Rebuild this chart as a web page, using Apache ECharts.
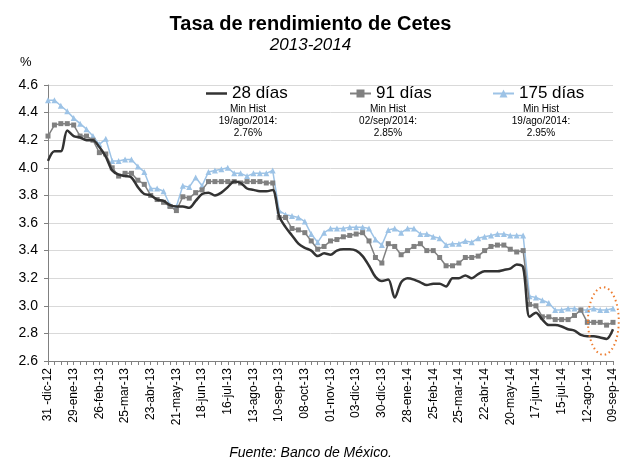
<!DOCTYPE html>
<html>
<head>
<meta charset="utf-8">
<script src="https://cdn.jsdelivr.net/npm/echarts@6/dist/echarts.min.js"></script>
<style>
html,body{margin:0;padding:0;background:#fff;}
#chart{width:621px;height:464px;}
</style>
</head>
<body>
<div id="chart"></div>
<script>
// Tick labels (every 4th weekly observation)
const tickLabels = ["31 -dic-12","29-ene-13","26-feb-13","25-mar-13","23-abr-13","21-may-13","18-jun-13","16-jul-13","13-ago-13","10-sep-13","08-oct-13","01-nov-13","03-dic-13","30-dic-13","28-ene-14","25-feb-14","25-mar-14","22-abr-14","20-may-14","17-jun-14","15-jul-14","12-ago-14","09-sep-14"];

// Series values (weekly auctions, %)
const cetes28 = [4.05,4.12,4.12,4.27,4.23,4.22,4.20,4.20,4.15,4.08,3.98,3.95,3.94,3.93,3.86,3.81,3.80,3.77,3.76,3.73,3.72,3.72,3.71,3.76,3.81,3.82,3.80,3.82,3.86,3.90,3.89,3.85,3.84,3.83,3.83,3.84,3.65,3.57,3.51,3.45,3.42,3.40,3.36,3.38,3.37,3.40,3.41,3.41,3.40,3.36,3.29,3.21,3.18,3.19,3.06,3.17,3.20,3.19,3.17,3.15,3.16,3.16,3.14,3.20,3.20,3.22,3.20,3.23,3.25,3.25,3.25,3.26,3.27,3.30,3.28,2.92,2.95,2.90,2.86,2.86,2.85,2.83,2.82,2.79,2.78,2.78,2.77,2.76,2.83];
const cetes91 = [4.23,4.31,4.32,4.32,4.31,4.23,4.23,4.20,4.11,4.10,4.00,3.94,3.96,3.96,3.91,3.88,3.80,3.77,3.75,3.72,3.69,3.79,3.78,3.82,3.84,3.90,3.90,3.90,3.90,3.90,3.89,3.90,3.90,3.90,3.89,3.89,3.64,3.64,3.56,3.55,3.53,3.47,3.41,3.43,3.47,3.48,3.50,3.51,3.52,3.53,3.47,3.35,3.31,3.45,3.43,3.37,3.40,3.43,3.45,3.40,3.40,3.35,3.29,3.29,3.31,3.35,3.35,3.36,3.40,3.43,3.44,3.44,3.41,3.39,3.40,3.01,3.00,2.92,2.92,2.90,2.90,2.90,2.93,2.97,2.88,2.88,2.88,2.86,2.88];
const cetes175 = [4.49,4.49,4.45,4.41,4.36,4.32,4.28,4.23,4.17,4.21,4.05,4.05,4.06,4.06,4.01,3.97,3.85,3.85,3.83,3.73,3.72,3.87,3.86,3.93,3.87,3.97,3.98,3.99,4.00,3.96,3.96,3.94,3.96,3.96,3.96,3.98,3.69,3.66,3.65,3.64,3.61,3.52,3.46,3.53,3.56,3.56,3.56,3.57,3.57,3.57,3.56,3.48,3.44,3.55,3.56,3.53,3.56,3.56,3.52,3.52,3.50,3.49,3.44,3.45,3.45,3.47,3.46,3.49,3.50,3.51,3.52,3.52,3.51,3.51,3.51,3.07,3.06,3.04,3.02,2.97,2.97,2.98,2.98,2.97,2.97,2.98,2.97,2.97,2.98];

const seriesNames = ["28 días","91 días","175 días"];
const minHistNotes = [
  ["Min Hist","19/ago/2014:","2.76%"],
  ["Min Hist","02/sep/2014:","2.85%"],
  ["Min Hist","19/ago/2014:","2.95%"]
];

const categories = cetes28.map((_, i) => (i % 4 === 0 ? tickLabels[i / 4] : "w" + i));

const FONT = "'Liberation Sans', Arial, sans-serif";
const chart = echarts.init(document.getElementById("chart"), null, {renderer: "canvas"});

const legendLefts = [206, 349, 492];
const noteCenters = [248, 388, 541];

const option = {
  backgroundColor: "#ffffff",
  animation: false,
  textStyle: {fontFamily: FONT},
  title: [
    {text: "Tasa de rendimiento de Cetes", left: "center", top: 9,
     textStyle: {fontFamily: FONT, fontSize: 20, fontWeight: "bold", color: "#000"}},
    {text: "2013-2014", left: "center", top: 32,
     textStyle: {fontFamily: FONT, fontSize: 17, fontStyle: "italic", fontWeight: "normal", color: "#000"}},
    {text: "Fuente: Banco de México.", left: "center", top: 441,
     textStyle: {fontFamily: FONT, fontSize: 14, fontStyle: "italic", fontWeight: "normal", color: "#000"}}
  ],
  legend: seriesNames.map((n, k) => ({
    data: [k === 0 ? {name: n, icon: "rect"} : n],
    left: legendLefts[k], top: 85, itemWidth: 21, itemHeight: k === 0 ? 2.5 : 10, padding: 0,
    textStyle: {fontFamily: FONT, fontSize: 17, color: "#000"}
  })),
  grid: {left: 48, right: 8, top: 85, bottom: 103},
  xAxis: {
    type: "category", data: categories, boundaryGap: false,
    axisLine: {lineStyle: {color: "#808080", width: 1}},
    axisTick: {interval: 0, length: 4, lineStyle: {color: "#808080"}},
    axisLabel: {interval: 3, rotate: 90, fontSize: 12, color: "#000", fontFamily: FONT, margin: 7},
    splitLine: {show: false}
  },
  yAxis: {
    type: "value", min: 2.6, max: 4.6, interval: 0.2,
    axisLine: {show: true, lineStyle: {color: "#808080", width: 1}},
    axisTick: {show: true, length: 4, lineStyle: {color: "#808080"}},
    axisLabel: {fontSize: 14, color: "#000", fontFamily: FONT, margin: 10, formatter: v => v.toFixed(1)},
    splitLine: {lineStyle: {color: "#d9d9d9", width: 1}}
  },
  series: [
    {name: seriesNames[0], type: "line", data: cetes28, smooth: 0.3, symbol: "none",
     lineStyle: {color: "#333333", width: 2.5}, itemStyle: {color: "#333333"}, z: 3},
    {name: seriesNames[1], type: "line", data: cetes91, symbol: "rect", symbolSize: 5, showAllSymbol: true,
     lineStyle: {color: "#808080", width: 1.5}, itemStyle: {color: "#808080"}, z: 2},
    {name: seriesNames[2], type: "line", data: cetes175, symbol: "triangle", symbolSize: 6, showAllSymbol: true,
     lineStyle: {color: "#9dc3e6", width: 1.5}, itemStyle: {color: "#9dc3e6"}, z: 1}
  ]
};
chart.setOption(option);

// Notes under legend entries, the "%" unit label and the highlight ellipse
const graphics = [];
minHistNotes.forEach((lines, k) => {
  lines.forEach((t, j) => {
    graphics.push({type: "text", x: noteCenters[k], y: 104 + j * 12,
      style: {text: t, fontFamily: FONT, fontSize: 10, fill: "#000", textAlign: "center"}});
  });
});
graphics.push({type: "text", x: 20, y: 56, style: {text: "%", fontFamily: FONT, fontSize: 13, fill: "#000"}});

// Ellipse around the last weeks, positioned through the axes' scales
const p86 = chart.convertToPixel({gridIndex: 0}, [86, 2.89]);
const p87 = chart.convertToPixel({gridIndex: 0}, [87, 3.135]);
const step = p87[0] - p86[0];
graphics.push({type: "ellipse", shape: {cx: p86[0] + 0.5 * step, cy: p86[1], rx: 2.4 * step, ry: Math.abs(p86[1] - p87[1])},
  style: {fill: "none", stroke: "#ed7d31", lineWidth: 2, lineDash: [1.5, 3]}, z: 10});
chart.setOption({graphic: graphics});
</script>
</body>
</html>
